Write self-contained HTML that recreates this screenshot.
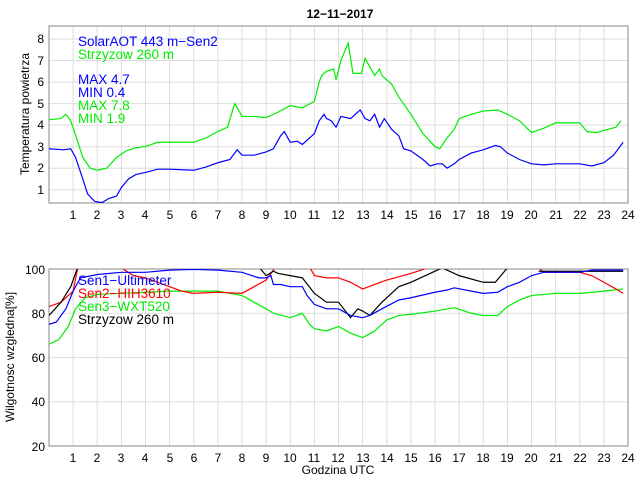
<!DOCTYPE html>
<html><head><meta charset="utf-8"><style>
body{margin:0;background:#fff;width:640px;height:480px;overflow:hidden}
text{font-family:"Liberation Sans",sans-serif}
</style></head><body>
<svg width="640" height="480" xmlns="http://www.w3.org/2000/svg">
<rect width="640" height="480" fill="#fff"/>
<text x="340" y="18" font-size="12" font-weight="bold" text-anchor="middle">12−11−2017</text>
<!-- TOP -->
<g stroke="#ddd" stroke-width="1">
<line x1="73.1" y1="26" x2="73.1" y2="203"/><line x1="97.2" y1="26" x2="97.2" y2="203"/><line x1="121.4" y1="26" x2="121.4" y2="203"/><line x1="145.5" y1="26" x2="145.5" y2="203"/><line x1="169.6" y1="26" x2="169.6" y2="203"/><line x1="193.8" y1="26" x2="193.8" y2="203"/><line x1="217.9" y1="26" x2="217.9" y2="203"/><line x1="242" y1="26" x2="242" y2="203"/><line x1="266.1" y1="26" x2="266.1" y2="203"/><line x1="290.3" y1="26" x2="290.3" y2="203"/><line x1="314.4" y1="26" x2="314.4" y2="203"/><line x1="338.5" y1="26" x2="338.5" y2="203"/><line x1="362.6" y1="26" x2="362.6" y2="203"/><line x1="386.8" y1="26" x2="386.8" y2="203"/><line x1="410.9" y1="26" x2="410.9" y2="203"/><line x1="435" y1="26" x2="435" y2="203"/><line x1="459.1" y1="26" x2="459.1" y2="203"/><line x1="483.3" y1="26" x2="483.3" y2="203"/><line x1="507.4" y1="26" x2="507.4" y2="203"/><line x1="531.5" y1="26" x2="531.5" y2="203"/><line x1="555.6" y1="26" x2="555.6" y2="203"/><line x1="579.8" y1="26" x2="579.8" y2="203"/><line x1="603.9" y1="26" x2="603.9" y2="203"/>
<line x1="49" y1="39" x2="628" y2="39"/><line x1="49" y1="60.5" x2="628" y2="60.5"/><line x1="49" y1="82.1" x2="628" y2="82.1"/><line x1="49" y1="103.6" x2="628" y2="103.6"/><line x1="49" y1="125.1" x2="628" y2="125.1"/><line x1="49" y1="146.7" x2="628" y2="146.7"/><line x1="49" y1="168.2" x2="628" y2="168.2"/><line x1="49" y1="189.7" x2="628" y2="189.7"/>
</g>
<rect x="49" y="26" width="579" height="177" fill="none" stroke="#888"/>
<g font-size="12" text-anchor="end">
<text x="44" y="43">8</text><text x="44" y="65">7</text><text x="44" y="86">6</text><text x="44" y="108">5</text><text x="44" y="129">4</text><text x="44" y="151">3</text><text x="44" y="172">2</text><text x="44" y="194">1</text></g>
<g font-size="12" text-anchor="middle">
<text x="73" y="219">1</text><text x="97" y="219">2</text><text x="121" y="219">3</text><text x="145" y="219">4</text><text x="170" y="219">5</text><text x="194" y="219">6</text><text x="218" y="219">7</text><text x="242" y="219">8</text><text x="266" y="219">9</text><text x="290" y="219">10</text><text x="314" y="219">11</text><text x="338" y="219">12</text><text x="363" y="219">13</text><text x="387" y="219">14</text><text x="411" y="219">15</text><text x="435" y="219">16</text><text x="459" y="219">17</text><text x="483" y="219">18</text><text x="507" y="219">19</text><text x="531" y="219">20</text><text x="556" y="219">21</text><text x="580" y="219">22</text><text x="604" y="219">23</text><text x="628" y="219">24</text></g>
<text transform="translate(29,114) rotate(-90)" font-size="12" text-anchor="middle">Temperatura powietrza</text>
<svg x="49" y="26" width="579" height="177" viewBox="0 -8.6 24 8.22" preserveAspectRatio="none" overflow="hidden">
<polyline fill="none" stroke="#0000ff" stroke-width="1.2" vector-effect="non-scaling-stroke" points="0,-2.9 0.6,-2.85 0.9,-2.9 1.1,-2.5 1.4,-1.5 1.6,-0.8 1.9,-0.45 2.2,-0.4 2.5,-0.6 2.8,-0.7 3,-1.1 3.3,-1.5 3.6,-1.7 4,-1.8 4.5,-1.95 5,-1.95 6,-1.9 6.5,-2.05 7,-2.25 7.5,-2.4 7.8,-2.85 8,-2.6 8.5,-2.6 9,-2.75 9.3,-2.9 9.6,-3.5 9.75,-3.7 10,-3.2 10.3,-3.25 10.5,-3.1 10.8,-3.4 11,-3.6 11.2,-4.2 11.4,-4.5 11.5,-4.3 11.7,-4.2 11.9,-3.9 12.1,-4.4 12.5,-4.3 12.9,-4.7 13.1,-4.3 13.3,-4.2 13.5,-4.5 13.7,-3.9 13.9,-4.3 14.2,-3.8 14.5,-3.5 14.7,-2.9 15,-2.8 15.5,-2.4 15.8,-2.1 16.1,-2.2 16.3,-2.2 16.5,-2 16.8,-2.2 17,-2.4 17.5,-2.7 18,-2.85 18.5,-3.05 18.7,-3 19,-2.7 19.5,-2.4 20,-2.2 20.5,-2.15 21,-2.2 22,-2.2 22.5,-2.1 23,-2.25 23.4,-2.6 23.8,-3.2"/>
<polyline fill="none" stroke="#00ee00" stroke-width="1.2" vector-effect="non-scaling-stroke" points="0,-4.25 0.5,-4.3 0.7,-4.5 0.9,-4.2 1.2,-3.2 1.4,-2.5 1.7,-2 2,-1.9 2.4,-2 2.8,-2.5 3.2,-2.8 3.6,-2.95 4,-3 4.5,-3.2 6,-3.2 6.5,-3.4 7,-3.7 7.4,-3.9 7.7,-5 8,-4.4 8.5,-4.4 9,-4.35 9.5,-4.6 10,-4.9 10.5,-4.8 11,-5.1 11.2,-6 11.3,-6.3 11.5,-6.5 11.8,-6.6 11.9,-6.1 12.1,-7 12.4,-7.8 12.6,-6.4 12.95,-6.4 13.1,-7.1 13.5,-6.3 13.7,-6.6 13.8,-6.3 14.2,-5.9 14.5,-5.3 15,-4.5 15.5,-3.6 16,-3 16.2,-2.9 16.5,-3.4 16.8,-3.8 17,-4.3 17.5,-4.5 18,-4.65 18.6,-4.7 19,-4.5 19.5,-4.2 20,-3.65 20.5,-3.85 21,-4.1 22,-4.1 22.3,-3.7 22.7,-3.65 23,-3.75 23.5,-3.9 23.7,-4.2"/>
</svg>
<g font-size="13.5">
<text x="78" y="46" fill="#0000ff">SolarAOT 443 m−Sen2</text>
<text x="78" y="59" fill="#00ee00">Strzyzow 260 m</text>
<text x="78" y="84" fill="#0000ff">MAX 4.7</text>
<text x="78" y="97" fill="#0000ff">MIN 0.4</text>
<text x="78" y="110" fill="#00ee00">MAX 7.8</text>
<text x="78" y="123" fill="#00ee00">MIN 1.9</text>
</g>
<!-- BOTTOM -->
<g stroke="#ddd" stroke-width="1">
<line x1="73.1" y1="269" x2="73.1" y2="446"/><line x1="97.2" y1="269" x2="97.2" y2="446"/><line x1="121.4" y1="269" x2="121.4" y2="446"/><line x1="145.5" y1="269" x2="145.5" y2="446"/><line x1="169.6" y1="269" x2="169.6" y2="446"/><line x1="193.8" y1="269" x2="193.8" y2="446"/><line x1="217.9" y1="269" x2="217.9" y2="446"/><line x1="242" y1="269" x2="242" y2="446"/><line x1="266.1" y1="269" x2="266.1" y2="446"/><line x1="290.3" y1="269" x2="290.3" y2="446"/><line x1="314.4" y1="269" x2="314.4" y2="446"/><line x1="338.5" y1="269" x2="338.5" y2="446"/><line x1="362.6" y1="269" x2="362.6" y2="446"/><line x1="386.8" y1="269" x2="386.8" y2="446"/><line x1="410.9" y1="269" x2="410.9" y2="446"/><line x1="435" y1="269" x2="435" y2="446"/><line x1="459.1" y1="269" x2="459.1" y2="446"/><line x1="483.3" y1="269" x2="483.3" y2="446"/><line x1="507.4" y1="269" x2="507.4" y2="446"/><line x1="531.5" y1="269" x2="531.5" y2="446"/><line x1="555.6" y1="269" x2="555.6" y2="446"/><line x1="579.8" y1="269" x2="579.8" y2="446"/><line x1="603.9" y1="269" x2="603.9" y2="446"/>
<line x1="49" y1="313.3" x2="628" y2="313.3"/><line x1="49" y1="357.6" x2="628" y2="357.6"/><line x1="49" y1="401.8" x2="628" y2="401.8"/>
</g>
<rect x="49" y="269" width="579" height="177" fill="none" stroke="#888"/>
<g font-size="12" text-anchor="end">
<text x="45" y="274">100</text><text x="45" y="318">80</text><text x="45" y="362">60</text><text x="45" y="406">40</text><text x="45" y="451">20</text></g>
<g font-size="12" text-anchor="middle">
<text x="73" y="462">1</text><text x="97" y="462">2</text><text x="121" y="462">3</text><text x="145" y="462">4</text><text x="170" y="462">5</text><text x="194" y="462">6</text><text x="218" y="462">7</text><text x="242" y="462">8</text><text x="266" y="462">9</text><text x="290" y="462">10</text><text x="314" y="462">11</text><text x="338" y="462">12</text><text x="363" y="462">13</text><text x="387" y="462">14</text><text x="411" y="462">15</text><text x="435" y="462">16</text><text x="459" y="462">17</text><text x="483" y="462">18</text><text x="507" y="462">19</text><text x="531" y="462">20</text><text x="556" y="462">21</text><text x="580" y="462">22</text><text x="604" y="462">23</text><text x="628" y="462">24</text></g>
<text x="338" y="474" font-size="12" text-anchor="middle">Godzina UTC</text>
<text transform="translate(14,357) rotate(-90)" font-size="12" text-anchor="middle">Wilgotnosc wzgledna[%]</text>
<svg x="49" y="269" width="579" height="177" viewBox="0 -100 24 80" preserveAspectRatio="none" overflow="hidden">
<g fill="none" stroke-width="1.2" vector-effect="non-scaling-stroke">
<polyline stroke="#00ee00" vector-effect="non-scaling-stroke" points="0,-66 0.4,-68 0.8,-74 1.1,-82 1.5,-87 2,-88.5 3,-89 4,-89.5 5,-90 7,-90 8,-88 8.5,-85 9,-82 9.3,-80 10,-78 10.5,-80 10.8,-75 11,-73 11.5,-72 12,-74 12.5,-71 13,-69 13.5,-72 14,-77 14.5,-79 15,-79.5 16,-81 16.8,-82.5 17.5,-80 18,-79 18.6,-79 19,-83 19.5,-86 20,-88 21,-89 22,-89 23,-90 23.8,-91"/>
<polyline stroke="#ff0000" vector-effect="non-scaling-stroke" points="0,-83 0.5,-85 1,-90 1.2,-101"/>
<polyline stroke="#ff0000" vector-effect="non-scaling-stroke" points="3,-100.5 3.5,-97 4,-96 5,-92 5.5,-90 6,-89 7,-89.5 8,-89 8.5,-92 9,-95 9.4,-101"/>
<polyline stroke="#ff0000" vector-effect="non-scaling-stroke" points="10.8,-101 11,-97 11.5,-96 12,-96 12.5,-94 13,-91 13.5,-93 14,-95 15,-98 15.7,-100.5"/>
<polyline stroke="#ff0000" vector-effect="non-scaling-stroke" points="20.3,-100.5 20.5,-98.5 22,-98.5 22.5,-97 23,-94 23.5,-91 23.8,-89"/>
<polyline stroke="#000000" vector-effect="non-scaling-stroke" points="0,-79 0.5,-85 0.9,-92 1.2,-101"/>
<polyline stroke="#000000" vector-effect="non-scaling-stroke" points="8.7,-101 9,-97 9.3,-99 9.5,-98 10,-97 10.5,-96 11,-89 11.5,-85 12,-85 12.5,-78 12.8,-82 13,-81 13.3,-79 13.8,-85 14.5,-92 15,-94 16,-99 16.3,-100.5 17,-97 18,-94 18.5,-94 19,-100.5"/>
<polyline stroke="#000000" vector-effect="non-scaling-stroke" points="20.3,-99 23.8,-99"/>
<polyline stroke="#0000ff" vector-effect="non-scaling-stroke" points="0,-75 0.3,-76 0.7,-82 1,-90 1.3,-96 2,-97.5 3,-98.5 4,-98.5 5,-99.5 6,-99.8 7,-99.5 8,-98.5 8.7,-96 9,-96 9.2,-97 9.3,-93 9.6,-93 10,-92 10.5,-92 10.7,-88 11,-84 11.5,-82 12,-82 12.5,-79 13,-78 13.3,-79 13.8,-82 14.5,-86 15,-87 16,-89.5 16.5,-90.5 16.8,-91.5 17.5,-90 18,-89 18.6,-89.5 19,-92 19.5,-94 20,-97 20.5,-98.5 22,-98.5 22.5,-99.5 23.8,-99.5"/>
</g>
</svg>
<g font-size="13.5">
<text x="78" y="285" fill="#0000ff">Sen1−Ultimeter</text>
<text x="78" y="298" fill="#ff0000">Sen2−HIH3610</text>
<text x="78" y="311" fill="#00ee00">Sen3−WXT520</text>
<text x="78" y="324" fill="#000000">Strzyzow 260 m</text>
</g>
</svg>
</body></html>
